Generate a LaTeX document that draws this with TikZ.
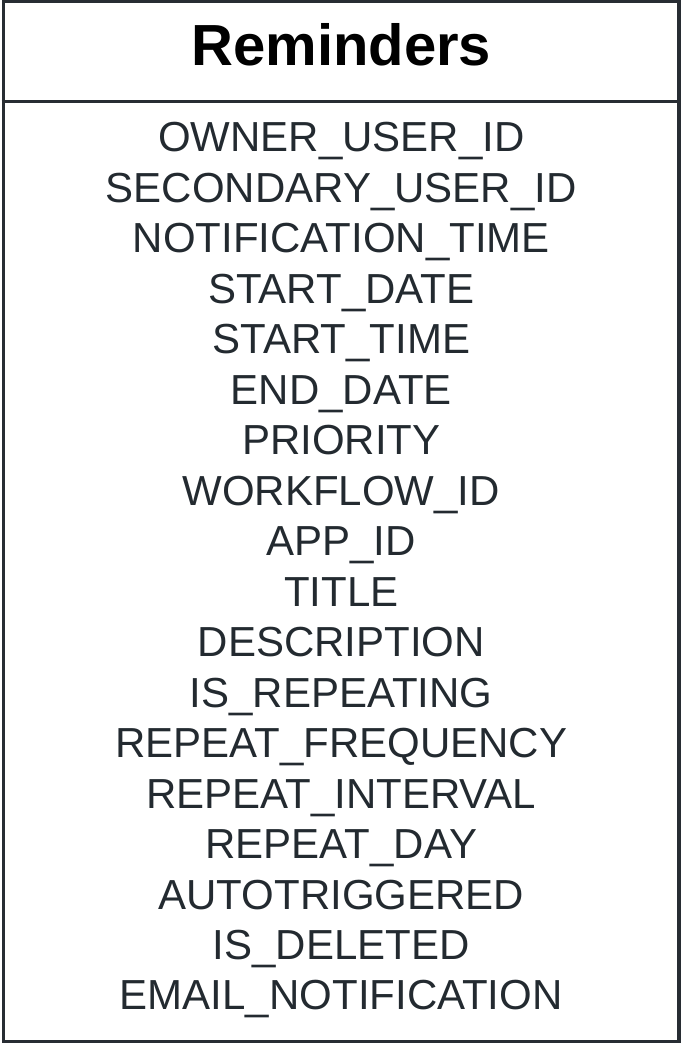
\documentclass[tikz,border=0pt]{standalone}
\usepackage{fontspec}
\setmainfont{Liberation Sans}
\definecolor{edgegray}{HTML}{282D33}
\definecolor{fieldgray}{HTML}{232A30}
\tikzset{
  field/.style={text=fieldgray, font=\fontsize{42}{42}\selectfont, inner sep=0pt, anchor=base},
  header/.style={text=black, font=\fontsize{58}{58}\selectfont\bfseries, inner sep=0pt, anchor=base}
}

\begin{document}
\begin{tikzpicture}[x=1pt,y=-1pt]
        % Draw the outer frame and the header bar
        \draw[edgegray, line width=3.5pt] (1.75,1.75) rectangle (677.25,1041.25);
        \draw[edgegray, line width=3.5pt] (0,101.5) -- (679,101.5);
        \node[header] (title) at (339.5,65.8) {Reminders};

        % Draw the fields of the table
        \foreach \fname [count=\i] in {OWNER\_USER\_ID, SECONDARY\_USER\_ID, NOTIFICATION\_TIME,
            START\_DATE, START\_TIME, END\_DATE, PRIORITY, WORKFLOW\_ID, APP\_ID, TITLE,
            DESCRIPTION, IS\_REPEATING, REPEAT\_FREQUENCY, REPEAT\_INTERVAL, REPEAT\_DAY,
            AUTOTRIGGERED, IS\_DELETED, EMAIL\_NOTIFICATION} {
            \node[field] (row\i) at (339.5, 101.5+50.47*\i) {\fname};
        }
\end{tikzpicture}
\end{document}
